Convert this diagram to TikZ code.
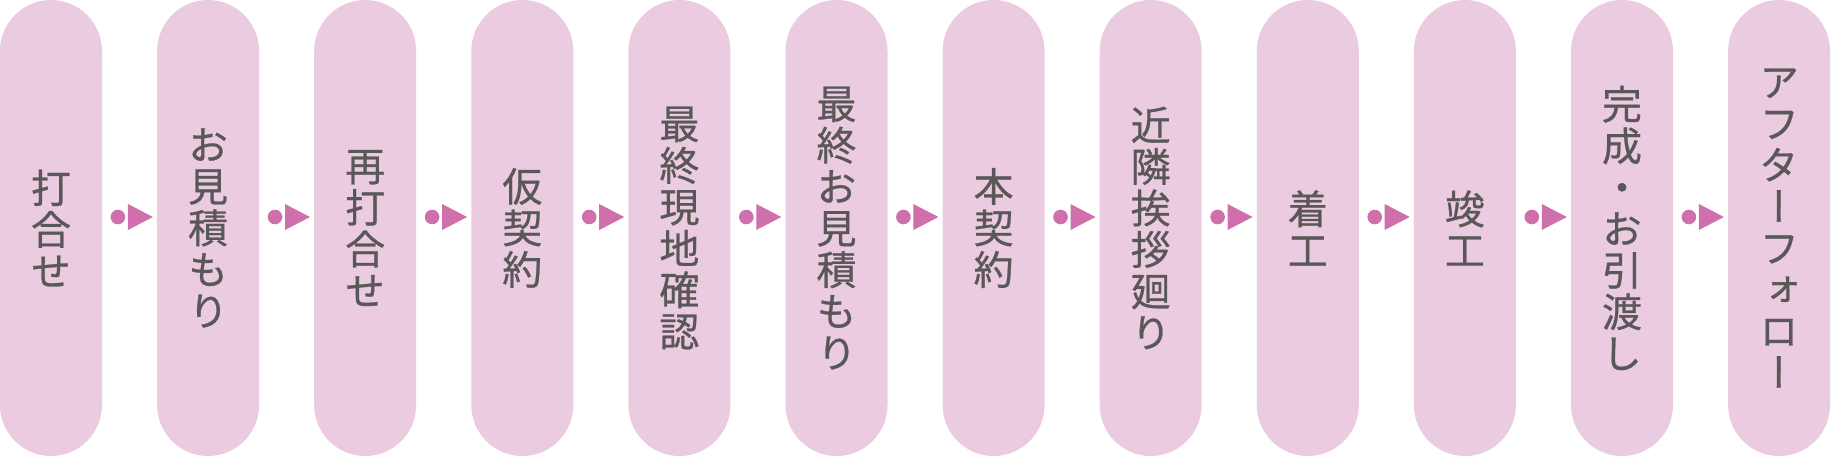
\documentclass[tikz,border=0pt]{standalone}
\usepackage{fontspec}
\newfontfamily\jpv[RawFeature=+vert,FakeBold=0.6]{Noto Sans CJK JP}
\definecolor{boxpink}{HTML}{EBCBE0}
\definecolor{arrowpink}{HTML}{CF6FAB}
\definecolor{txtgray}{HTML}{595757}
\begin{document}
\begin{tikzpicture}[x=1pt,y=-1pt,
  stepbox/.style={fill=boxpink, rounded corners=51pt, minimum width=102pt,
    minimum height=456pt, inner sep=0pt, align=center, text=txtgray,
    font=\jpv\fontsize{40}{41.5}\selectfont},
  linkmark/.style={fill=arrowpink}
]
\useasboundingbox (0,0) rectangle (1831,456);
\foreach \t [count=\i] in {
  {打\\合\\せ},
  {お\\見\\積\\も\\り},
  {再\\打\\合\\せ},
  {仮\\契\\約},
  {最\\終\\現\\地\\確\\認},
  {最\\終\\お\\見\\積\\も\\り},
  {本\\契\\約},
  {近\\隣\\挨\\拶\\廻\\り},
  {着\\工},
  {竣\\工},
  {完\\成\\・\\お\\引\\渡\\し},
  {ア\\フ\\タ\\ー\\フ\\ォ\\ロ\\ー}}
{
  \node[stepbox] (b\i) at ({51+157.1*(\i-1)},228) {\t};
}
\foreach \i in {1,...,11}{
  \path (b\i.east) ++(0,-11) coordinate (a\i);
  \fill[linkmark,shift={(a\i)}] (15.7,0) circle (7.3pt)
     (25.7,-13) -- (50.7,0) -- (25.7,13) -- cycle;
}
\end{tikzpicture}
\end{document}
